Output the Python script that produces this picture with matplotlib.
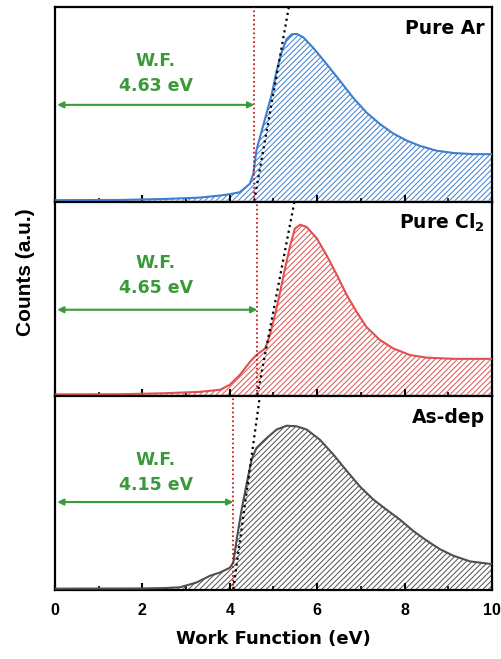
import numpy as np
import matplotlib
matplotlib.use("Agg")
import matplotlib.pyplot as plt

plt.rcParams["font.family"] = ["Liberation Sans", "DejaVu Sans"]
plt.rcParams["font.weight"] = "bold"
plt.rcParams["mathtext.fontset"] = "custom"
plt.rcParams["mathtext.rm"] = "DejaVu Sans:bold"
plt.rcParams["mathtext.default"] = "rm"
plt.rcParams["hatch.linewidth"] = 0.7

# --- data (counts normalised to panel height) ---
labels = ["Pure Ar", "Pure Cl$_2$", "As-dep"]
wf_text = ["4.63 eV", "4.65 eV", "4.15 eV"]
colors = ["#3d7fcf", "#e05050", "#505050"]

ar_x = [0, 1.5, 2.5, 3.3, 3.78, 4.0, 4.23, 4.46, 4.54, 4.61, 4.73, 4.84,
        4.96, 5.07, 5.19, 5.30, 5.42, 5.53, 5.68, 5.91, 6.22, 6.52, 6.83,
        7.13, 7.44, 7.74, 8.05, 8.35, 8.73, 9.12, 9.57, 10]
ar_y = [0.002, 0.003, 0.008, 0.015, 0.026, 0.033, 0.043, 0.087, 0.14, 0.26,
        0.36, 0.45, 0.55, 0.67, 0.77, 0.835, 0.86, 0.862, 0.845, 0.79, 0.705,
        0.62, 0.53, 0.455, 0.395, 0.347, 0.31, 0.283, 0.258, 0.246, 0.24,
        0.24]

cl_x = [0, 1.5, 2.5, 3.3, 3.78, 4.0, 4.23, 4.46, 4.61, 4.81, 4.92, 5.03,
        5.15, 5.26, 5.38, 5.49, 5.61, 5.76, 5.99, 6.22, 6.45, 6.68, 6.90,
        7.13, 7.44, 7.74, 8.12, 8.51, 9.12, 10]
cl_y = [0.002, 0.003, 0.008, 0.015, 0.026, 0.052, 0.103, 0.17, 0.206, 0.24,
        0.31, 0.41, 0.53, 0.65, 0.77, 0.86, 0.88, 0.868, 0.81, 0.72, 0.62,
        0.515, 0.43, 0.35, 0.283, 0.24, 0.206, 0.192, 0.186, 0.186]

ad_x = [0, 2.0, 2.5, 2.86, 3.24, 3.55, 3.78, 4.0, 4.08, 4.16, 4.27, 4.39,
        4.50, 4.61, 4.84, 5.07, 5.30, 5.53, 5.76, 6.06, 6.37, 6.68, 6.98,
        7.28, 7.59, 7.89, 8.20, 8.51, 8.81, 9.12, 9.50, 10]
ad_y = [0.002, 0.003, 0.005, 0.009, 0.034, 0.069, 0.086, 0.11, 0.137, 0.26,
        0.41, 0.55, 0.67, 0.73, 0.78, 0.825, 0.845, 0.842, 0.825, 0.773,
        0.696, 0.61, 0.53, 0.464, 0.41, 0.36, 0.30, 0.25, 0.206, 0.172,
        0.143, 0.129]

curves = [(ar_x, ar_y), (cl_x, cl_y), (ad_x, ad_y)]

edge_x = [4.56, 4.63, 4.08]           # red dotted onset line
tan_top = [5.35, 5.48, 4.69]          # tangent x at panel top
arrow_y = [0.495, 0.44, 0.45]
wf_y = [0.72, 0.68, 0.67]
val_y = [0.59, 0.55, 0.54]

green = "#3a9a3a"

fig = plt.figure(figsize=(5.02, 6.59), dpi=100)
gs = fig.add_gridspec(3, 1, left=0.1096, right=0.980, top=0.989,
                      bottom=0.1047, hspace=0)
axes = [fig.add_subplot(gs[i]) for i in range(3)]

for i, ax in enumerate(axes):
    x, y = curves[i]
    ax.fill_between(x, 0, y, facecolor="white", edgecolor=colors[i],
                    hatch="//////", linewidth=0, zorder=1)
    ax.plot(x, y, color=colors[i], lw=1.5, zorder=3)
    ax.axvline(edge_x[i], color="#c00000", ls=":", lw=1.2, zorder=4)
    ax.plot([edge_x[i], tan_top[i]], [0, 1.0], color="black", ls=":",
            lw=1.6, zorder=5)
    ax.annotate("", xy=(edge_x[i], arrow_y[i]), xytext=(0.05, arrow_y[i]),
                arrowprops=dict(arrowstyle="<|-|>", color=green, lw=1.5,
                                mutation_scale=9, shrinkA=0, shrinkB=0))
    ax.text(2.31, wf_y[i], "W.F.", color=green, fontsize=12.5,
            family="DejaVu Sans", fontweight="bold", ha="center",
            va="center")
    ax.text(2.31, val_y[i], wf_text[i], color=green, fontsize=12.5,
            family="DejaVu Sans", fontweight="bold", ha="center",
            va="center")
    ax.text(0.984, 0.89, labels[i], transform=ax.transAxes, fontsize=13.5,
            family="DejaVu Sans", fontweight="bold", ha="right",
            va="center")

    ax.set_xlim(0, 10)
    ax.set_ylim(-0.005, 1.0)
    ax.set_yticks([])
    ax.set_xticks([0, 2, 4, 6, 8, 10])
    ax.set_xticks([1, 3, 5, 7, 9], minor=True)
    ax.tick_params(axis="x", which="major", direction="in", length=5,
                   width=1.5, labelsize=11.5, pad=9)
    ax.tick_params(axis="x", which="minor", direction="in", length=3,
                   width=1.2)
    for s in ax.spines.values():
        s.set_linewidth(1.6)
    if i < 2:
        ax.tick_params(axis="x", labelbottom=False)

for lab in axes[2].get_xticklabels():
    lab.set_fontweight("bold")
axes[2].set_xlabel("Work Function (eV)", fontsize=13, family="DejaVu Sans",
                   fontweight="bold", labelpad=9)
fig.text(0.05, 0.587, "Counts (a.u.)", rotation=90, fontsize=15,
         fontweight="bold", ha="center", va="center")

fig.savefig("out.png", dpi=100)
